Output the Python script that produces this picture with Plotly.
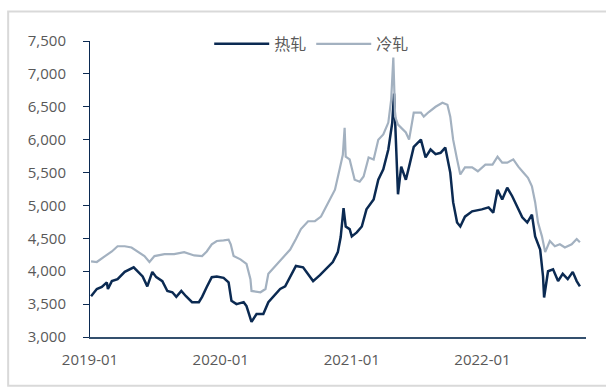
import plotly.graph_objects as go

# 热轧 (hot-rolled) price series
hot_dates = [
    "2019-01-04", "2019-01-20", "2019-02-03", "2019-02-17", "2019-02-20", "2019-03-03",
    "2019-03-19", "2019-04-08", "2019-05-03", "2019-05-14", "2019-05-28", "2019-06-10",
    "2019-06-24", "2019-07-05", "2019-07-22", "2019-08-05", "2019-08-19", "2019-08-30",
    "2019-09-13", "2019-09-26", "2019-10-13", "2019-11-01", "2019-11-10", "2019-11-23",
    "2019-12-07", "2019-12-21", "2020-01-09", "2020-01-23", "2020-01-31", "2020-02-14",
    "2020-03-05", "2020-03-13", "2020-03-27", "2020-04-10", "2020-04-29", "2020-05-13",
    "2020-05-27", "2020-06-15", "2020-06-29", "2020-07-16", "2020-07-29", "2020-08-18",
    "2020-09-01", "2020-09-15", "2020-10-04", "2020-10-21", "2020-11-09", "2020-11-23",
    "2020-12-01", "2020-12-09", "2020-12-15", "2020-12-26", "2021-01-01", "2021-01-15",
    "2021-01-29", "2021-02-11", "2021-03-03", "2021-03-16", "2021-03-30", "2021-04-13",
    "2021-04-24", "2021-04-29", "2021-05-05", "2021-05-10", "2021-05-19", "2021-06-01",
    "2021-06-10", "2021-06-23", "2021-07-13", "2021-07-26", "2021-08-09", "2021-08-23",
    "2021-09-06", "2021-09-19", "2021-10-03", "2021-10-11", "2021-10-22", "2021-10-31",
    "2021-11-13", "2021-12-03", "2021-12-30", "2022-01-18", "2022-01-31", "2022-02-12",
    "2022-02-25", "2022-03-11", "2022-03-25", "2022-04-08", "2022-04-22", "2022-05-06",
    "2022-05-19", "2022-05-28", "2022-06-11", "2022-06-19", "2022-06-22", "2022-07-03",
    "2022-07-17", "2022-07-31", "2022-08-13", "2022-08-27", "2022-09-10", "2022-09-21",
    "2022-09-30",
]
hot_values = [
    3620, 3730, 3760, 3830, 3730, 3850,
    3880, 3990, 4060, 4000, 3920, 3770,
    3990, 3910, 3850, 3700, 3680, 3610,
    3700, 3620, 3530, 3530, 3610, 3760,
    3910, 3920, 3900, 3830, 3550, 3500,
    3530, 3470, 3230, 3350, 3350, 3530,
    3620, 3730, 3770, 3960, 4080, 4060,
    3960, 3850, 3940, 4030, 4140, 4290,
    4520, 4960, 4680, 4640, 4530, 4590,
    4680, 4940, 5090, 5390, 5550, 5850,
    6260, 6700, 6000, 5170, 5590, 5390,
    5590, 5890, 6000, 5730, 5850, 5780,
    5800, 5880, 5500, 5050, 4740, 4680,
    4830, 4910, 4940, 4970, 4890, 5240,
    5090, 5270, 5140, 4990, 4820, 4740,
    4860, 4530, 4330, 3920, 3600, 4000,
    4030, 3850, 3960, 3880, 3990, 3850,
    3770,
]

# 冷轧 (cold-rolled) price series
cold_dates = [
    "2019-01-04", "2019-01-20", "2019-02-12", "2019-03-03", "2019-03-19", "2019-04-08",
    "2019-04-27", "2019-05-14", "2019-06-02", "2019-06-16", "2019-06-30", "2019-07-28",
    "2019-08-24", "2019-09-21", "2019-10-19", "2019-11-10", "2019-11-23", "2019-12-07",
    "2019-12-21", "2020-01-09", "2020-01-23", "2020-01-29", "2020-02-06", "2020-02-25",
    "2020-03-13", "2020-03-24", "2020-03-27", "2020-04-21", "2020-05-05", "2020-05-13",
    "2020-06-01", "2020-06-18", "2020-07-13", "2020-07-29", "2020-08-12", "2020-09-01",
    "2020-09-20", "2020-10-07", "2020-10-26", "2020-11-15", "2020-11-28", "2020-12-07",
    "2020-12-12", "2020-12-15", "2020-12-26", "2021-01-01", "2021-01-09", "2021-01-23",
    "2021-02-03", "2021-02-17", "2021-03-03", "2021-03-16", "2021-03-30", "2021-04-13",
    "2021-04-21", "2021-04-27", "2021-05-02", "2021-05-10", "2021-05-19", "2021-06-01",
    "2021-06-10", "2021-06-23", "2021-07-13", "2021-07-21", "2021-08-04", "2021-08-23",
    "2021-09-11", "2021-09-25", "2021-10-03", "2021-10-11", "2021-10-22", "2021-10-31",
    "2021-11-13", "2021-12-03", "2021-12-19", "2022-01-09", "2022-01-29", "2022-02-12",
    "2022-02-25", "2022-03-11", "2022-03-28", "2022-04-11", "2022-04-25", "2022-05-08",
    "2022-05-19", "2022-05-28", "2022-06-05", "2022-06-16", "2022-06-25", "2022-07-08",
    "2022-07-22", "2022-08-05", "2022-08-19", "2022-09-07", "2022-09-21", "2022-09-30",
]
cold_values = [
    4150, 4140, 4230, 4300, 4380, 4380,
    4360, 4300, 4230, 4140, 4230, 4260,
    4260, 4290, 4240, 4230, 4300, 4410,
    4460, 4470, 4480, 4410, 4230, 4180,
    4110, 3880, 3700, 3680, 3730, 3960,
    4080, 4180, 4330, 4490, 4640, 4760,
    4760, 4830, 5020, 5240, 5550, 5770,
    6180, 5740, 5700, 5550, 5390, 5360,
    5440, 5730, 5700, 6000, 6080, 6260,
    6610, 7250, 6350, 6230, 6180, 6110,
    6000, 6410, 6410, 6350, 6420, 6500,
    6560, 6530, 6350, 6000, 5700, 5470,
    5580, 5580, 5520, 5620, 5620, 5740,
    5650, 5650, 5700, 5590, 5500, 5420,
    5290, 5050, 4740, 4530, 4290, 4460,
    4380, 4410, 4360, 4410, 4490, 4440,
]

# x-axis ticks
tick_dates = ["2019-01-01", "2020-01-01", "2021-01-01", "2022-01-01"]
tick_labels = ["2019-01", "2020-01", "2021-01", "2022-01"]

NAVY = "#0B2A52"
SILVER = "#A3B1C0"
TEXT = "#595959"
NUM_FONT = "Open Sans"
CJK_FONT = "Noto Sans CJK SC"

fig = go.Figure()
fig.add_trace(go.Scatter(
    x=hot_dates, y=hot_values, name="热轧", mode="lines",
    line=dict(color=NAVY, width=2.5),
))
fig.add_trace(go.Scatter(
    x=cold_dates, y=cold_values, name="冷轧", mode="lines",
    line=dict(color=SILVER, width=2.2),
))

fig.update_layout(
    width=606, height=387,
    margin=dict(l=90, r=20, t=41, b=50),
    paper_bgcolor="white", plot_bgcolor="white",
    showlegend=True,
    legend=dict(
        orientation="h", x=0.447, xanchor="center", y=0.99, yanchor="middle",
        font=dict(family=CJK_FONT, size=16, color=TEXT),
        itemwidth=55, bgcolor="rgba(0,0,0,0)", tracegroupgap=0,
    ),
    xaxis=dict(
        type="date", range=["2019-01-01", "2022-10-17"],
        tickvals=tick_dates, ticktext=tick_labels,
        showline=True, linecolor="#34506E", linewidth=1.5,
        ticks="", showgrid=False, zeroline=False,
        tickfont=dict(family=NUM_FONT, size=15, color=TEXT),
        ticklabelstandoff=8,
    ),
    yaxis=dict(
        range=[3000, 7500], dtick=500, tickformat=",",
        showline=True, linecolor=NAVY, linewidth=1,
        ticks="outside", ticklen=6, tickcolor=NAVY,
        showgrid=False, zeroline=False,
        tickfont=dict(family=NUM_FONT, size=15, color=TEXT),
        ticklabelstandoff=14,
    ),
    shapes=[dict(
        type="rect", xref="paper", yref="paper",
        x0=-0.165, x1=1.05, y0=-0.165, y1=1.10,
        line=dict(color="#D9D9D9", width=2), fillcolor="rgba(0,0,0,0)",
        layer="below",
    )],
)

fig.write_html("out.html")
